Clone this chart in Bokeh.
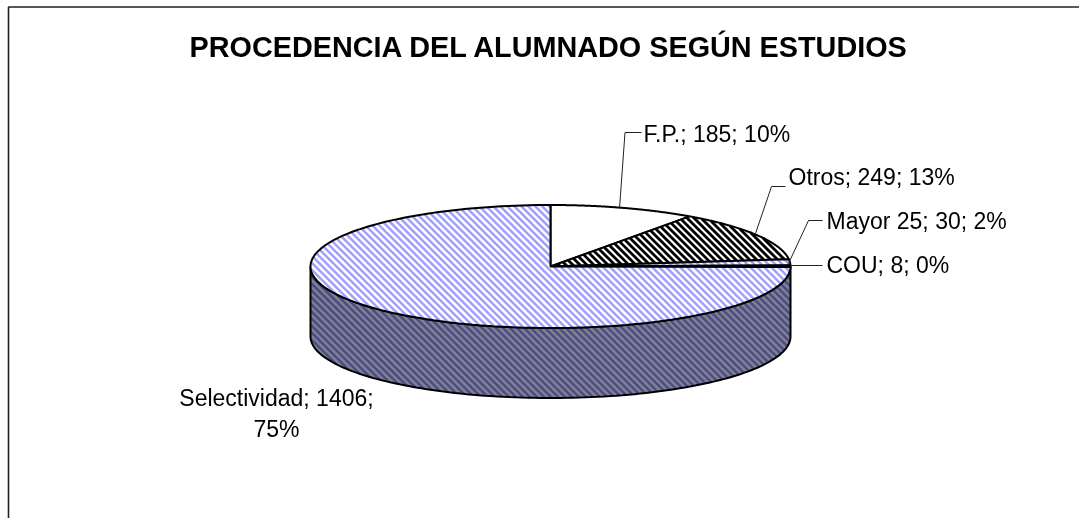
import numpy as np
from bokeh.plotting import figure
from bokeh.models import Range1d
from bokeh.embed import file_html
from bokeh.resources import INLINE
from bokeh.core.properties import value

TITLE = "PROCEDENCIA DEL ALUMNADO SEGÚN ESTUDIOS"
categories = ["F.P.", "Otros", "Mayor 25", "COU", "Selectividad"]
counts = [185, 249, 30, 8, 1406]
percents = ["10%", "13%", "2%", "0%", "75%"]

W, H = 1079, 518
CX, CY, RX, RY, DEPTH = 550, 266, 240, 61.5, 70
PERIOD = 7.0
FONT = value("Liberation Sans")

p = figure(width=W, height=H, output_backend="svg", toolbar_location=None,
           x_range=Range1d(0, W), y_range=Range1d(H, 0), min_border=0,
           outline_line_color=None, background_fill_color="white", border_fill_color="white")
p.styles = {"position": "fixed", "left": "0px", "top": "0px"}
p.axis.visible = False
p.grid.visible = False

def pt(t, dy=0.0):
    return CX + RX*np.sin(t), CY + dy - RY*np.cos(t)

def stripes(px, py):
    """Clip 45-degree lines (falling to the right on screen) to a polygon."""
    xs, ys = [], []
    px, py = np.asarray(px, float), np.asarray(py, float)
    u = px - py
    ax, ay = np.roll(px, -1), np.roll(py, -1)
    au = np.roll(u, -1)
    first = np.ceil(u.min() / PERIOD) * PERIOD
    for c in np.arange(first, u.max(), PERIOD):
        hit = (u - c) * (au - c) < 0
        if not hit.any():
            continue
        f = (c - u[hit]) / (au[hit] - u[hit])
        hx = np.sort(px[hit] + f * (ax[hit] - px[hit]))
        for a, b in zip(hx[::2], hx[1::2]):
            xs.append([a, b])
            ys.append([a - c, b - c])
    return xs, ys

def shape(px, py, fill, stripe=None, sw=2.5):
    p.patch(px, py, fill_color=fill, line_color=None)
    if stripe:
        xs, ys = stripes(px, py)
        p.multi_line(xs, ys, line_color=stripe, line_width=sw, line_cap="butt")
    p.patch(px, py, fill_color=None, line_color="black", line_width=2)

# frame
p.line([8, 8, W], [H, 6.5, 6.5], line_color="#222222", line_width=1.6)

edges = np.concatenate([[0], np.cumsum(counts)]) / sum(counts) * 2*np.pi

# side wall (visible lower half of the cake)
ts = np.linspace(np.pi/2, 3*np.pi/2, 120)
x0, y0 = pt(ts)
x1, y1 = pt(ts[::-1], DEPTH)
shape(np.r_[x0, x1], np.r_[y0, y1], "#808098", "#4d4d80")

slice_styles = [("white", None, 2.5), ("white", "#000000", 2.8), ("white", "#a0a0ff", 2.5),
                ("white", None, 2.5), ("white", "#a0a0ff", 2.5)]
for i in range(len(counts)):
    t = np.linspace(edges[i], edges[i+1], 160)
    x, y = pt(t)
    fill, st, sw = slice_styles[i]
    shape(np.r_[CX, x], np.r_[CY, y], fill, st, sw)

# leader lines
leaders = [([619, 624.5, 641], [208, 132, 132]),
           ([755, 771, 785], [233, 186, 186]),
           ([788, 808, 822], [263, 220, 220]),
           ([790, 822], [265, 265])]
for lx, ly in leaders:
    p.line(lx, ly, line_color="#222222", line_width=1)

# labels
lab = [f"{c}; {n}; {q}" for c, n, q in zip(categories, counts, percents)]
p.text([643, 788, 826, 826], [133, 176, 220, 264], text=lab[:4], text_font=FONT, text_font_size="23px",
       text_baseline="middle", text_align="left", text_color="black")
p.text([276, 276], [397, 428], text=[f"{categories[4]}; {counts[4]};", percents[4]], text_font=FONT,
       text_font_size="23px", text_baseline="middle", text_align="center", text_color="black")
p.text([549], [46], text=[TITLE], text_font=FONT, text_font_size="28.8px", text_font_style="bold",
       text_baseline="middle", text_align="center", text_color="black")

open("out.html", "w").write(file_html(p, INLINE))
